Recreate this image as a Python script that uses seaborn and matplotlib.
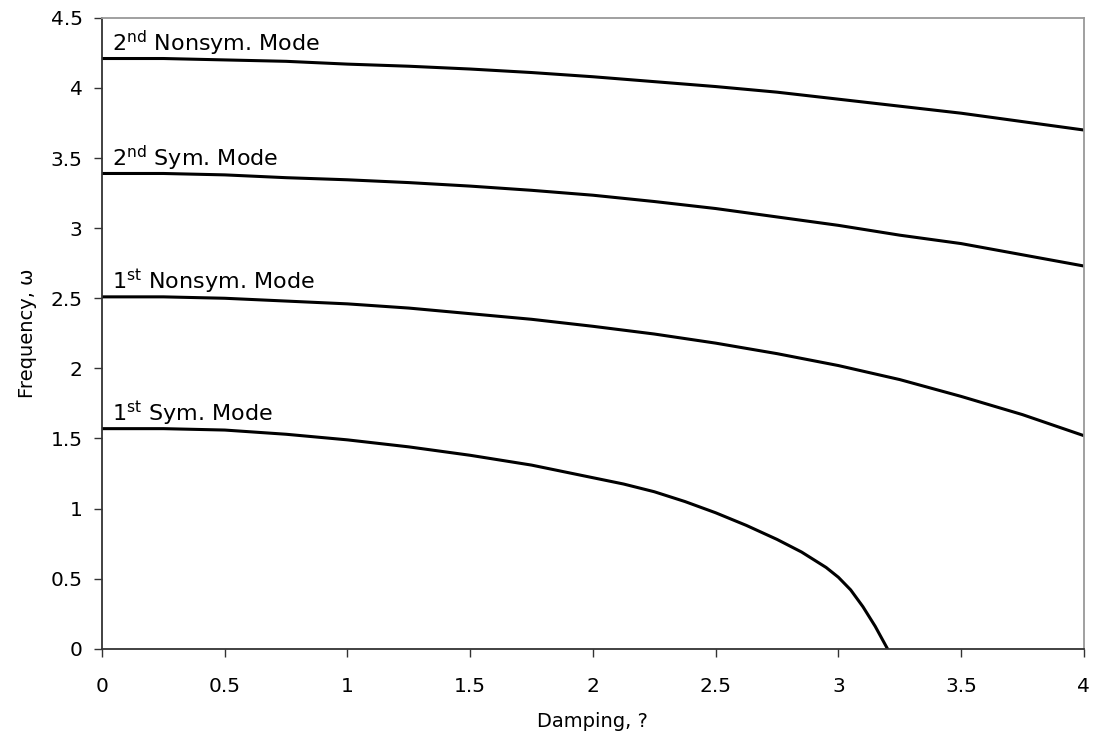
import numpy as np
import pandas as pd
import matplotlib
matplotlib.use("Agg")
import matplotlib.pyplot as plt
import seaborn as sns

# damping values
damping = [0, 0.25, 0.5, 0.75, 1.0, 1.25, 1.5, 1.75, 2.0, 2.25, 2.5, 2.75, 3.0, 3.25, 3.5, 3.75, 4.0]
nonsym2 = [4.21, 4.21, 4.20, 4.19, 4.17, 4.155, 4.135, 4.11, 4.08, 4.045, 4.01, 3.97, 3.92, 3.87, 3.82, 3.76, 3.70]
sym2 = [3.39, 3.39, 3.38, 3.36, 3.345, 3.325, 3.30, 3.27, 3.235, 3.19, 3.14, 3.08, 3.02, 2.95, 2.89, 2.81, 2.73]
nonsym1 = [2.51, 2.51, 2.50, 2.48, 2.46, 2.43, 2.39, 2.35, 2.30, 2.245, 2.18, 2.105, 2.02, 1.92, 1.80, 1.67, 1.52]

# first symmetric mode vanishes near 3.2
damping_sym1 = [0, 0.25, 0.5, 0.75, 1.0, 1.25, 1.5, 1.75, 2.0, 2.125, 2.25, 2.375, 2.5,
                2.625, 2.75, 2.85, 2.95, 3.0, 3.05, 3.1, 3.15, 3.2]
sym1 = [1.57, 1.57, 1.56, 1.53, 1.49, 1.44, 1.38, 1.31, 1.22, 1.175, 1.12, 1.05, 0.97,
        0.88, 0.78, 0.69, 0.58, 0.51, 0.42, 0.30, 0.16, 0.0]

mode_names = ["2nd Nonsym", "2nd Sym", "1st Nonsym", "1st Sym"]
mode_labels = [r"2$^{nd}$ Nonsym. Mode", r"2$^{nd}$ Sym. Mode",
               r"1$^{st}$ Nonsym. Mode", r"1$^{st}$ Sym. Mode"]

frames = []
for name, xs, ys in zip(mode_names,
                        [damping, damping, damping, damping_sym1],
                        [nonsym2, sym2, nonsym1, sym1]):
    frames.append(pd.DataFrame({"damping": xs, "freq": ys, "mode": name}))
df = pd.concat(frames, ignore_index=True)

sns.set_style("white")
plt.rcParams["font.family"] = ["DejaVu Sans"]
plt.rcParams["mathtext.default"] = "regular"
plt.rcParams["text.color"] = "black"
plt.rcParams["axes.labelcolor"] = "black"

fig = plt.figure(figsize=(10.97, 7.44), dpi=100)
ax = fig.add_axes([0.093, 0.128, 0.895, 0.848])

sns.lineplot(data=df, x="damping", y="freq", units="mode", estimator=None,
             color="black", linewidth=2.2, sort=False, ax=ax)

for name, label in zip(mode_names, mode_labels):
    sub = df[df["mode"] == name]
    ax.text(0.04, sub["freq"].iloc[0] + 0.055, label, fontsize=16,
            ha="left", va="baseline", color="black")

ax.set_xlim(0, 4)
ax.set_ylim(0, 4.5)
ax.set_xticks(np.arange(0, 4.01, 0.5))
ax.set_yticks(np.arange(0, 4.51, 0.5))
ax.set_xticklabels(["0", "0.5", "1", "1.5", "2", "2.5", "3", "3.5", "4"])
ax.set_yticklabels(["0", "0.5", "1", "1.5", "2", "2.5", "3", "3.5", "4", "4.5"])
ax.tick_params(axis="both", direction="out", length=6, width=1,
               colors="#333333", labelsize=14.5, labelcolor="black")
ax.tick_params(axis="x", bottom=True, pad=14)
ax.tick_params(axis="y", left=True, pad=8)

for side in ["left", "bottom"]:
    ax.spines[side].set_color("#333333")
    ax.spines[side].set_linewidth(1.3)
for side in ["top", "right"]:
    ax.spines[side].set_color("#999999")
    ax.spines[side].set_linewidth(1.3)

ax.set_xlabel("Damping, ?", fontsize=14, labelpad=12)
ax.set_ylabel("Frequency, ω", fontsize=14, labelpad=10)

fig.savefig("out.png", dpi=100)
